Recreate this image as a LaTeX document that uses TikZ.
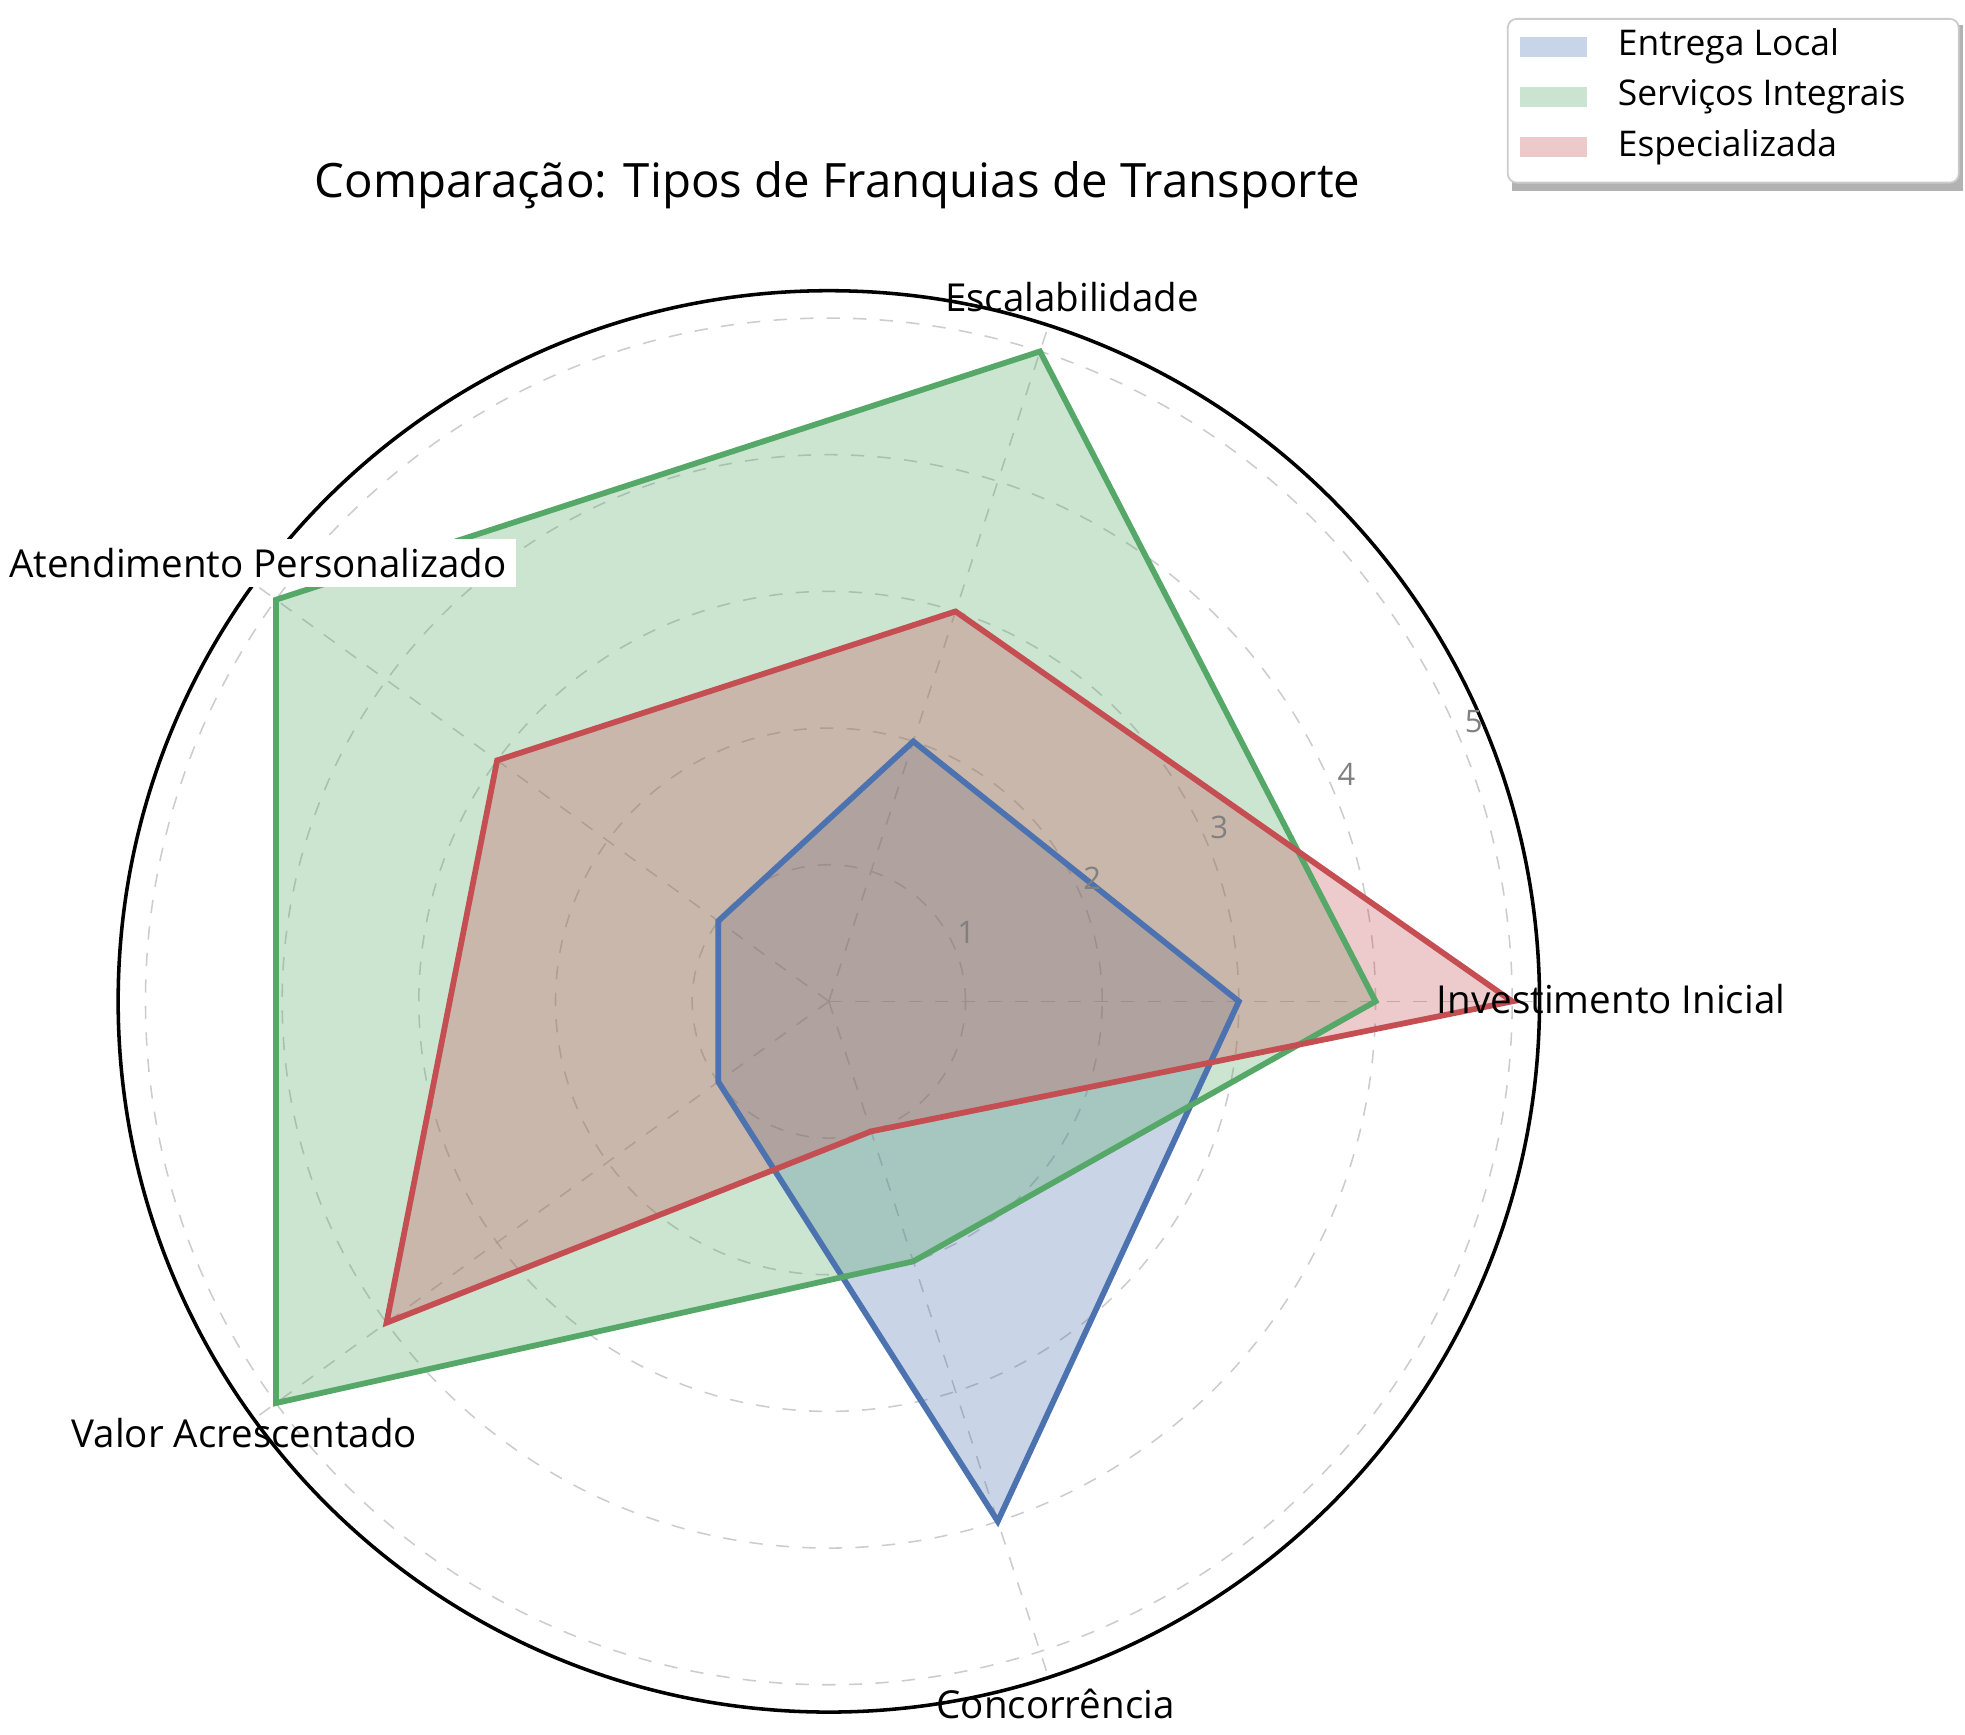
\documentclass[tikz,border=0pt]{standalone}
\usepackage{fontspec}
\setmainfont{Open Sans}
\usetikzlibrary{calc}
\definecolor{cb}{HTML}{4C72B0}
\definecolor{cg}{HTML}{55A868}
\definecolor{cr}{HTML}{C44E52}
\begin{document}
\begin{tikzpicture}[x=1cm,y=1cm,
  grid/.style={gray!40,dashed,line width=0.35pt},
  series/.style={line width=1.3pt,line join=miter},
  axlabel/.style={font=\fontsize{8.7}{10}\selectfont,inner sep=2pt},
  tick/.style={font=\fontsize{7}{8}\selectfont,text=gray},
  legtext/.style={font=\fontsize{8}{10}\selectfont,anchor=west}]
\useasboundingbox (0,0) rectangle (15.6,13.77);
\coordinate (O) at (6.58,5.82);
\def\u{1.085}
% grid
\foreach \v in {1,...,5} \draw[grid] (O) circle ({\v*\u});
\foreach \a in {0,72,144,216,288} \draw[grid] (O) -- ++(\a:{5.2*\u});
\draw[line width=0.8pt] (O) circle ({5.2*\u});
% coordinates
\coordinate (b0) at ($(O)+(0:{3*\u})$); \coordinate (b1) at ($(O)+(72:{2*\u})$);
\coordinate (b2) at ($(O)+(144:{1*\u})$); \coordinate (b3) at ($(O)+(216:{1*\u})$);
\coordinate (b4) at ($(O)+(288:{4*\u})$);
\coordinate (g0) at ($(O)+(0:{4*\u})$); \coordinate (g1) at ($(O)+(72:{5*\u})$);
\coordinate (g2) at ($(O)+(144:{5*\u})$); \coordinate (g3) at ($(O)+(216:{5*\u})$);
\coordinate (g4) at ($(O)+(288:{2*\u})$);
\coordinate (r0) at ($(O)+(0:{5*\u})$); \coordinate (r1) at ($(O)+(72:{3*\u})$);
\coordinate (r2) at ($(O)+(144:{3*\u})$); \coordinate (r3) at ($(O)+(216:{4*\u})$);
\coordinate (r4) at ($(O)+(288:{1*\u})$);
% fills
\fill[cb,fill opacity=0.3] (b0)--(b1)--(b2)--(b3)--(b4)--cycle;
\fill[cg,fill opacity=0.3] (g0)--(g1)--(g2)--(g3)--(g4)--cycle;
\fill[cr,fill opacity=0.3] (r0)--(r1)--(r2)--(r3)--(r4)--cycle;
% lines
\draw[series,cb] (b0)--(b1)--(b2)--(b3)--(b4)--cycle;
\draw[series,cg] (g0)--(g1)--(g2)--(g3)--(g4)--cycle;
\draw[series,cr] (r0)--(r1)--(r2)--(r3)--(r4)--cycle;
% ticks
\node[tick] (t1) at (7.67,6.37) {1};
\node[tick] (t2) at (8.67,6.80) {2};
\node[tick] (t3) at (9.68,7.20) {3};
\node[tick] (t4) at (10.69,7.62) {4};
\node[tick] (t5) at (11.70,8.04) {5};
% axis labels
\node[axlabel,anchor=west] (l0) at (11.33,5.84) {Investimento Inicial};
\node[axlabel] (l1) at (8.51,11.41) {Escalabilidade};
\node[axlabel,anchor=east,fill=white] (l2) at (4.10,9.30) {Atendimento Personalizado};
\node[axlabel] (l3) at (1.94,2.39) {Valor Acrescentado};
\node[axlabel] (l4) at (8.38,0.24) {Concorrência};
% title
\node[font=\fontsize{10.7}{13}\selectfont] (title) at (6.65,12.30) {Comparação: Tipos de Franquias de Transporte};
% legend
\fill[gray!60] (12.00,12.25) rectangle (15.58,13.57);
\draw[gray!40,fill=white,rounded corners=2pt] (11.97,12.32) rectangle (15.55,13.62);
\foreach \c/\t/\y in {cb/Entrega Local/13.40, cg/Serviços Integrais/13.00, cr/Especializada/12.60}{
  \fill[\c,fill opacity=0.3] (12.07,\y-0.08) rectangle (12.60,\y+0.08);
  \node[legtext] at (12.72,\y) {\t};
}
\end{tikzpicture}
\end{document}
